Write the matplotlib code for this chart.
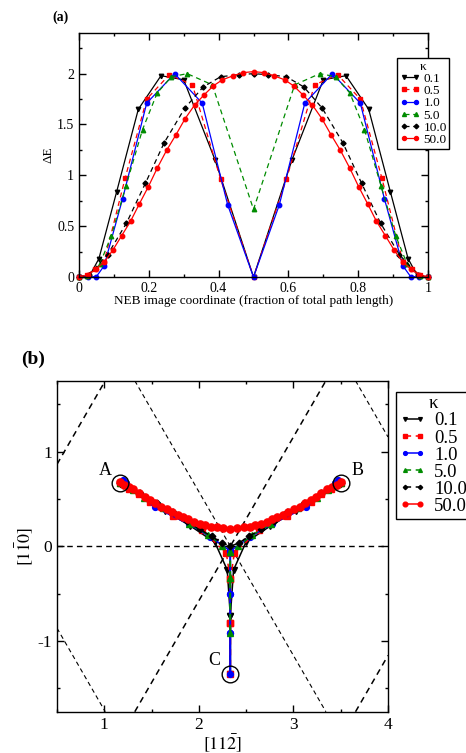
import matplotlib
matplotlib.use("Agg")
import matplotlib.pyplot as plt
from matplotlib.ticker import MultipleLocator, FormatStrFormatter

plt.rcParams['font.family'] = ['Liberation Serif', 'DejaVu Serif']
plt.rcParams['mathtext.fontset'] = 'stix'

# ---------------- data: panel (a), energy along the path ----------------
kappas = ['0.1', '0.5', '1.0', '5.0', '10.0', '50.0']

ea_k01_x = [0, 0.03, 0.057, 0.108, 0.17, 0.235, 0.30, 0.39, 0.5,
            0.61, 0.70, 0.765, 0.83, 0.892, 0.943, 0.97, 1.0]
ea_k01_y = [0, 0.01, 0.18, 0.84, 1.65, 1.98, 1.94, 1.15, 0.0,
            1.15, 1.94, 1.98, 1.65, 0.84, 0.18, 0.01, 0]

ea_k05_x = [0, 0.022, 0.046, 0.072, 0.132, 0.194, 0.259, 0.325, 0.406, 0.5,
            0.594, 0.675, 0.741, 0.806, 0.868, 0.928, 0.954, 0.978, 1.0]
ea_k05_y = [0, 0.02, 0.08, 0.15, 0.97, 1.75, 1.99, 1.89, 0.96, 0.0,
            0.96, 1.89, 1.99, 1.75, 0.97, 0.15, 0.08, 0.02, 0]

ea_k1_x = [0, 0.025, 0.05, 0.072, 0.125, 0.194, 0.274, 0.353, 0.426, 0.5,
           0.574, 0.647, 0.726, 0.806, 0.875, 0.928, 0.95, 0.975, 1.0]
ea_k1_y = [0, 0.0, 0.005, 0.11, 0.77, 1.71, 2.0, 1.71, 0.71, 0.0,
           0.71, 1.71, 2.0, 1.71, 0.77, 0.11, 0.005, 0.0, 0]

ea_k5_x = [0, 0.024, 0.06, 0.092, 0.135, 0.182, 0.224, 0.265, 0.31, 0.382, 0.5,
           0.618, 0.69, 0.735, 0.776, 0.818, 0.865, 0.908, 0.94, 0.976, 1.0]
ea_k5_y = [0, 0.01, 0.13, 0.40, 0.90, 1.45, 1.81, 1.97, 2.0, 1.89, 0.665,
           1.89, 2.0, 1.97, 1.81, 1.45, 0.90, 0.40, 0.13, 0.01, 0]

ea_k10_x = [0, 0.028, 0.082, 0.136, 0.19, 0.244, 0.303, 0.356, 0.406, 0.459, 0.5,
            0.541, 0.594, 0.644, 0.697, 0.756, 0.81, 0.864, 0.918, 0.972, 1.0]
ea_k10_y = [0, 0.02, 0.22, 0.53, 0.92, 1.32, 1.66, 1.87, 1.97, 1.99, 2.0,
            1.99, 1.97, 1.87, 1.66, 1.32, 0.92, 0.53, 0.22, 0.02, 0]

ea_k50_x = [0, 0.025, 0.048, 0.073, 0.097, 0.122, 0.148, 0.173, 0.199, 0.224,
            0.251, 0.278, 0.304, 0.331, 0.358, 0.385, 0.411, 0.442, 0.47, 0.5,
            0.53, 0.558, 0.589, 0.615, 0.642, 0.669, 0.696, 0.722, 0.749, 0.776,
            0.801, 0.827, 0.852, 0.878, 0.903, 0.927, 0.952, 0.975, 1.0]
ea_k50_y = [0, 0.02, 0.075, 0.15, 0.265, 0.405, 0.55, 0.72, 0.89, 1.07,
            1.246, 1.40, 1.557, 1.69, 1.79, 1.88, 1.94, 1.98, 2.01, 2.02,
            2.01, 1.98, 1.94, 1.88, 1.79, 1.69, 1.557, 1.40, 1.246, 1.07,
            0.89, 0.72, 0.55, 0.405, 0.265, 0.15, 0.075, 0.02, 0]

# ---------------- data: panel (b), paths in the plane ----------------
pb_k01_x = [1.167, 1.30, 1.42, 1.64, 1.91, 2.17, 2.30, 2.333, 2.333,
            2.333, 2.367, 2.497, 2.757, 3.027, 3.247, 3.367, 3.50]
pb_k01_y = [0.673, 0.59, 0.51, 0.375, 0.215, 0.04, -0.25, -0.74, -1.347,
            -0.74, -0.25, 0.04, 0.215, 0.375, 0.51, 0.59, 0.673]

pb_k05_x = [1.167, 1.265, 1.37, 1.48, 1.73, 2.03, 2.29, 2.333, 2.333, 2.333,
            2.333, 2.333, 2.376, 2.636, 2.936, 3.186, 3.296, 3.401, 3.50]
pb_k05_y = [0.673, 0.61, 0.55, 0.47, 0.32, 0.17, -0.07, -0.35, -0.81, -1.347,
            -0.81, -0.35, -0.07, 0.17, 0.32, 0.47, 0.55, 0.61, 0.673]

pb_k1_x = [1.167, 1.195, 1.225, 1.536, 1.896, 2.12, 2.333, 2.333, 2.333, 2.333,
           2.333, 2.333, 2.333, 2.546, 2.77, 3.13, 3.441, 3.471, 3.50]
pb_k1_y = [0.673, 0.695, 0.665, 0.41, 0.233, 0.10, -0.05, -0.50, -0.92, -1.347,
           -0.92, -0.50, -0.05, 0.10, 0.233, 0.41, 0.665, 0.695, 0.673]

pb_k5_x = [1.167, 1.20, 1.30, 1.42, 1.62, 1.90, 2.10, 2.25, 2.333, 2.333, 2.333,
           2.333, 2.333, 2.417, 2.567, 2.767, 3.047, 3.247, 3.367, 3.467, 3.50]
pb_k5_y = [0.673, 0.655, 0.59, 0.51, 0.40, 0.235, 0.12, 0.0, -0.06, -0.34, -0.92,
           -0.34, -0.06, 0.0, 0.12, 0.235, 0.40, 0.51, 0.59, 0.655, 0.673]

pb_k10_x = [1.167, 1.20, 1.378, 1.554, 1.73, 1.87, 2.01, 2.136, 2.24, 2.333,
            2.426, 2.53, 2.656, 2.796, 2.936, 3.112, 3.288, 3.466, 3.50]
pb_k10_y = [0.673, 0.645, 0.56, 0.46, 0.36, 0.265, 0.177, 0.106, 0.035, 0.0,
            0.035, 0.106, 0.177, 0.265, 0.36, 0.46, 0.56, 0.645, 0.673]

pb_k50_x = [1.167, 1.21, 1.26, 1.307, 1.37, 1.43, 1.485, 1.54, 1.60, 1.66, 1.72,
            1.78, 1.836, 1.89, 1.95, 2.01, 2.07, 2.13, 2.19, 2.26, 2.333,
            2.406, 2.476, 2.536, 2.596, 2.656, 2.716, 2.776, 2.83, 2.886, 2.946,
            3.006, 3.066, 3.126, 3.181, 3.236, 3.296, 3.359, 3.406, 3.456, 3.499]
pb_k50_y = [0.675, 0.65, 0.625, 0.60, 0.56, 0.52, 0.488, 0.455, 0.42, 0.39, 0.36,
            0.335, 0.31, 0.285, 0.26, 0.24, 0.222, 0.208, 0.198, 0.19, 0.185,
            0.19, 0.198, 0.208, 0.222, 0.24, 0.26, 0.285, 0.31, 0.335, 0.36,
            0.39, 0.42, 0.455, 0.488, 0.52, 0.56, 0.60, 0.625, 0.65, 0.675]

# minima A, B, C
min_labels = ['A', 'B', 'C']
min_x = [1.167, 3.50, 2.333]
min_y = [0.673, 0.673, -1.347]

# dashed lattice lines (x-intercepts and slopes)
lattice_x0 = [0.0, 2.333, 4.667]
lattice_slopes = [1.732, -1.732]

# ---------------- styles ----------------
green = '#008c00'
styles = [
    dict(color='black', ls='-', marker='v'),
    dict(color='red', ls=(0, (4, 3)), marker='s'),
    dict(color='blue', ls='-', marker='o'),
    dict(color=green, ls=(0, (4, 3)), marker='^'),
    dict(color='black', ls=(0, (4, 3)), marker='D'),
    dict(color='red', ls='-', marker='o'),
]

fig = plt.figure(figsize=(4.66, 7.53), dpi=100)


def style_axes(ax, fs):
    for sp in ax.spines.values():
        sp.set_linewidth(1.0)
    ax.tick_params(which='both', direction='in', top=True, right=True,
                   labelsize=fs, width=1.0)
    ax.tick_params(which='major', length=5)
    ax.tick_params(which='minor', length=2.5)


# ---------------- panel (a) ----------------
ax1 = fig.add_axes([0.1695, 0.6321, 0.749, 0.3241])
series_a = [(ea_k01_x, ea_k01_y), (ea_k05_x, ea_k05_y), (ea_k1_x, ea_k1_y),
            (ea_k5_x, ea_k5_y), (ea_k10_x, ea_k10_y), (ea_k50_x, ea_k50_y)]
for (xs, ys), st, lab in zip(series_a, styles, kappas):
    ax1.plot(xs, ys, color=st['color'], ls=st['ls'], lw=0.9,
             marker=st['marker'], ms=3.2 if st['marker'] != 'D' else 2.6,
             mec=st['color'], mfc=st['color'], label=lab, clip_on=False)
ax1.set_xlim(0, 1)
ax1.set_ylim(0, 2.4)
ax1.xaxis.set_major_locator(MultipleLocator(0.2))
ax1.xaxis.set_minor_locator(MultipleLocator(0.1))
ax1.yaxis.set_major_locator(MultipleLocator(0.5))
ax1.yaxis.set_minor_locator(MultipleLocator(0.25))
ax1.xaxis.set_major_formatter(FormatStrFormatter('%g'))
ax1.yaxis.set_major_formatter(FormatStrFormatter('%g'))
style_axes(ax1, 10)
ax1.set_xlabel('NEB image coordinate (fraction of total path length)',
               fontsize=9.5, labelpad=0)
ax1.set_ylabel('\u0394E', fontsize=9.5, labelpad=2)
leg1 = ax1.legend(title='\u03ba', loc='upper left',
                  bbox_to_anchor=(0.852, 0.923), bbox_transform=fig.transFigure,
                  fontsize=9.5, title_fontsize=9.5, numpoints=2, handlelength=1.5,
                  handletextpad=0.3, labelspacing=0.0, borderpad=0.2,
                  borderaxespad=0, fancybox=False, framealpha=1, edgecolor='black',
                  markerscale=0.9)
leg1.get_frame().set_linewidth(1.0)
fig.text(0.112, 0.977, '(a)', fontsize=10, fontweight='bold', va='center')

# ---------------- panel (b) ----------------
ax2 = fig.add_axes([0.1223, 0.0548, 0.7103, 0.4396])
ax2.axhline(0, color='black', lw=1.0, ls=(0, (4, 3)))
for x0 in lattice_x0:
    ax2.axline((x0, 0), slope=lattice_slopes[0], color='black', lw=1.1,
               ls=(0, (4, 3)))
    ax2.axline((x0, 0), slope=lattice_slopes[1], color='black', lw=0.8,
               ls=(0, (4, 3)))
series_b = [(pb_k01_x, pb_k01_y), (pb_k05_x, pb_k05_y), (pb_k1_x, pb_k1_y),
            (pb_k5_x, pb_k5_y), (pb_k10_x, pb_k10_y), (pb_k50_x, pb_k50_y)]
for (xs, ys), st, lab in zip(series_b, styles, kappas):
    ms = 4.2
    if st['marker'] == 'D':
        ms = 3.4
    if lab == '50.0':
        ms = 5.2
    ax2.plot(xs, ys, color=st['color'], ls=st['ls'], lw=1.1,
             marker=st['marker'], ms=ms, mec=st['color'], mfc=st['color'],
             label=lab)
ax2.plot(min_x, min_y, 'o', ms=12, mfc='none', mec='black', mew=1.0)
label_off = [(-0.16, 0.13), (0.18, 0.13), (-0.17, 0.14)]
for lab, x, y, (dx, dy) in zip(min_labels, min_x, min_y, label_off):
    ax2.text(x + dx, y + dy, lab, fontsize=13, ha='center', va='center')
ax2.set_xlim(0.5, 4)
ax2.set_ylim(-1.75, 1.75)
ax2.xaxis.set_major_locator(MultipleLocator(1))
ax2.xaxis.set_minor_locator(MultipleLocator(0.5))
ax2.yaxis.set_major_locator(MultipleLocator(1))
ax2.yaxis.set_minor_locator(MultipleLocator(0.5))
ax2.xaxis.set_major_formatter(FormatStrFormatter('%g'))
ax2.yaxis.set_major_formatter(FormatStrFormatter('%g'))
style_axes(ax2, 12.5)
ax2.set_xlabel(r'$[11\bar{2}]$', fontsize=13, labelpad=0)
ax2.set_ylabel(r'$[1\bar{1}0]$', fontsize=13, labelpad=2)
leg2 = ax2.legend(title='\u03ba', loc='upper left',
                  bbox_to_anchor=(0.849, 0.480), bbox_transform=fig.transFigure,
                  fontsize=13.5, title_fontsize=13.5, numpoints=2,
                  handlelength=1.4, handletextpad=0.45, labelspacing=0.0,
                  borderpad=0.2, borderaxespad=0, fancybox=False,
                  framealpha=1, edgecolor='black', markerscale=0.65)
leg2.get_frame().set_linewidth(1.0)
fig.text(0.045, 0.5225, '(b)', fontsize=14, fontweight='bold', va='center')

fig.savefig('out.png', dpi=100)
